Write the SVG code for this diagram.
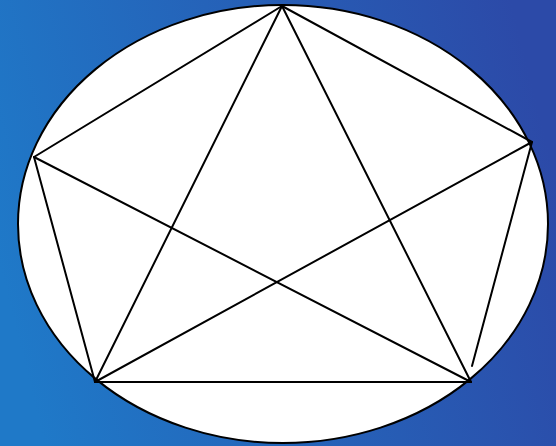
<svg xmlns="http://www.w3.org/2000/svg" width="556" height="446" viewBox="0 0 556 446">
<defs>
<linearGradient id="bg" x1="0" y1="0.6" x2="1" y2="0.4">
<stop offset="0" stop-color="#1f79c8"/>
<stop offset="1" stop-color="#2c4aa8"/>
</linearGradient>
<style>
.l{stroke:#000;stroke-width:2;fill:none;stroke-linecap:round}
</style>
</defs>
<rect width="556" height="446" fill="url(#bg)"/>
<ellipse id="circle" cx="283" cy="224" rx="265" ry="219" fill="#fff" stroke="#000" stroke-width="2"/>
<g id="lines" class="l">
<line class="l" x1="282" y1="6" x2="34" y2="157"/>
<line class="l" x1="282" y1="6" x2="532" y2="142"/>
<line class="l" x1="282" y1="6" x2="95" y2="382"/>
<line class="l" x1="282" y1="6" x2="471" y2="382"/>
<line class="l" x1="34" y1="157" x2="95" y2="382"/>
<line class="l" x1="34" y1="157" x2="471" y2="382"/>
<line class="l" x1="532" y1="142" x2="95" y2="382"/>
<line class="l" x1="532" y1="142" x2="472" y2="366"/>
<line class="l" x1="95" y1="382" x2="471" y2="382"/>
</g>
</svg>
